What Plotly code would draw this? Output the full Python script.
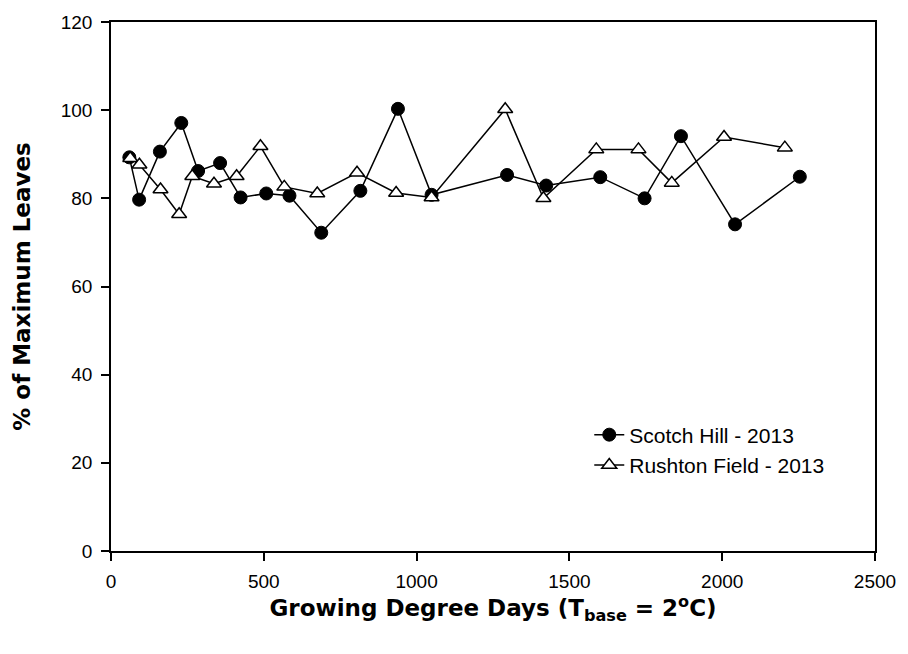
import plotly.graph_objects as go

scotch_x = [60, 92, 160, 230, 285, 357, 424, 508, 584, 688, 816, 939, 1049, 1296, 1424, 1601, 1746, 1865, 2042, 2254]
scotch_y = [89.3, 79.7, 90.6, 97.1, 86.2, 88.0, 80.2, 81.1, 80.6, 72.2, 81.7, 100.3, 80.8, 85.3, 82.9, 84.8, 80.0, 94.1, 74.1, 84.9]

rushton_x = [63, 93, 162, 223, 266, 337, 411, 489, 567, 675, 805, 933, 1049, 1290, 1415, 1588, 1726, 1835, 2006, 2205]
rushton_y = [89.1, 87.6, 82.0, 76.4, 85.0, 83.3, 85.0, 91.8, 82.6, 81.1, 85.8, 81.2, 80.2, 100.2, 80.0, 91.1, 91.1, 83.5, 93.9, 91.5]

x_ticks = [0, 500, 1000, 1500, 2000, 2500]
y_ticks = [0, 20, 40, 60, 80, 100, 120]

fig = go.Figure()
fig.add_trace(go.Scatter(
    x=scotch_x, y=scotch_y, mode="lines+markers", name="Scotch Hill - 2013",
    line=dict(color="black", width=1.5),
    marker=dict(symbol="circle", size=13, color="black", line=dict(color="black", width=1)),
))
fig.add_trace(go.Scatter(
    x=rushton_x, y=rushton_y, mode="lines+markers", name="Rushton Field - 2013",
    line=dict(color="black", width=1.5),
    marker=dict(symbol="triangle-up", size=13, color="white", line=dict(color="black", width=1.5)),
))

axis_common = dict(
    showline=True, linecolor="black", linewidth=1.5, mirror=True,
    ticks="outside", ticklen=8, tickwidth=1.5, tickcolor="black",
    showgrid=False, zeroline=False,
    tickfont=dict(family="Liberation Sans, Arial, sans-serif", size=19, color="black"),
)

title_font = dict(family="DejaVu Sans", size=23, color="black", weight="bold")

fig.update_xaxes(
    range=[0, 2500], tickvals=x_ticks, ticktext=[str(v) for v in x_ticks],
    ticklabelstandoff=4,
    title=dict(text="Growing Degree Days (T<sub>base</sub> = 2<sup>o</sup>C)",
               font=title_font, standoff=8),
    **axis_common,
)
fig.update_yaxes(
    range=[0, 120], tickvals=y_ticks, ticktext=[str(v) for v in y_ticks],
    ticklabelstandoff=5,
    title=dict(text="% of Maximum Leaves", font=title_font, standoff=24),
    **axis_common,
)

fig.update_layout(
    width=908, height=654,
    margin=dict(l=111, r=27, t=12, b=103),
    plot_bgcolor="white", paper_bgcolor="white",
    showlegend=True,
    legend=dict(x=0.626, y=0.258, xanchor="left", yanchor="top",
                bgcolor="rgba(0,0,0,0)",
                font=dict(family="Liberation Sans, Arial, sans-serif", size=21, color="black"),
                tracegroupgap=0),
)

fig.write_html("out.html")
